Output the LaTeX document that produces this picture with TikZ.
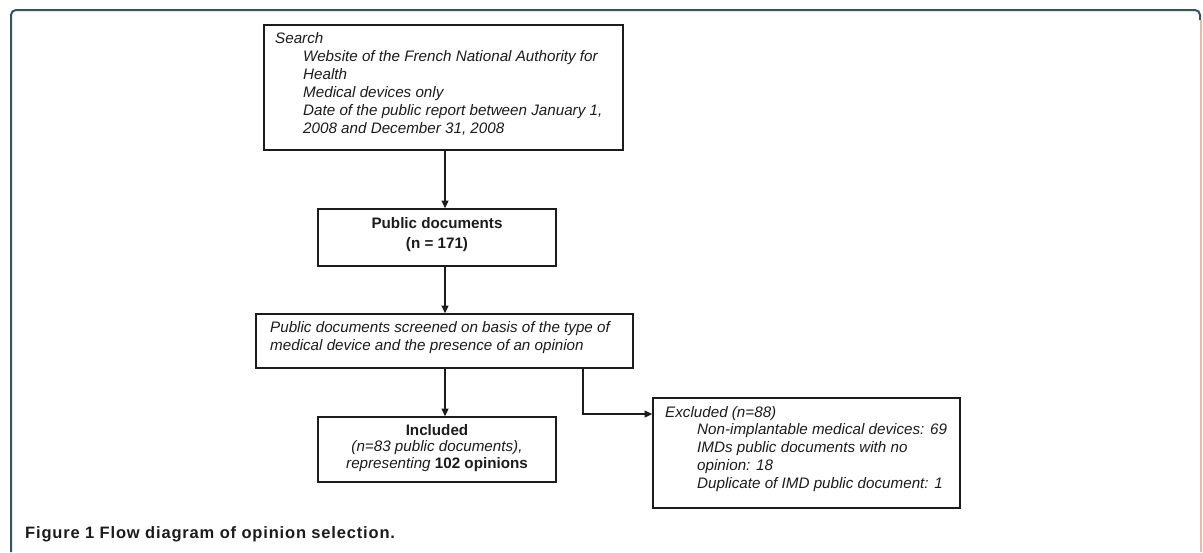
\documentclass[tikz,border=0pt]{standalone}
\usepackage{fontspec}
\setmainfont{Liberation Sans}
\usetikzlibrary{arrows.meta}
\definecolor{framec}{HTML}{34555E}
\definecolor{edgepale}{HTML}{E8B9A6}
\definecolor{ink}{HTML}{1C1C1C}
\tikzset{
  box/.style={draw=ink, line width=1.8pt, inner sep=0pt},
  arr/.style={draw=ink, line width=1.3pt, -{Triangle[length=7.5pt,width=7pt]}},
  txt/.style={inner sep=0pt, text=ink, font=\fontsize{15.2}{18}\selectfont\itshape},
}
\begin{document}
\begin{tikzpicture}[x=1pt,y=-1pt]
\useasboundingbox (0,0) rectangle (1203,552);
\fill[white] (0,0) rectangle (1203,552);
% outer frame
\draw[framec, line width=2pt, rounded corners=5pt] (11,552) -- (11,10) -- (1200,10) -- (1200,20);
\draw[edgepale, line width=1.5pt] (1201,20) -- (1201,552);

% boxes
\node[box, minimum width=359pt, minimum height=125pt] (search) at (443.5,87.5) {};
\node[box, minimum width=238pt, minimum height=57pt] (pub) at (437,237.5) {};
\node[box, minimum width=377pt, minimum height=54pt] (screen) at (444.5,341) {};
\node[box, minimum width=238pt, minimum height=65pt] (incl) at (437,449.5) {};
\node[box, minimum width=307pt, minimum height=110pt] (excl) at (806.5,453) {};

% texts
\node[txt, anchor=north west, align=left] (searchtxt) at (275,30.4) {\strut Search\\
\hspace*{28pt}Website of the French National Authority for\\
\hspace*{28pt}Health\\
\hspace*{28pt}Medical devices only\\
\hspace*{28pt}Date of the public report between January 1,\\
\hspace*{28pt}2008 and December 31, 2008};
\node[txt, anchor=north, align=center, font=\fontsize{15.2}{20}\selectfont\bfseries] (pubtxt) at (437,214) {\strut Public documents\\(n = 171)};
\node[txt, anchor=north west, align=left] (screentxt) at (270,319.4) {\strut Public documents screened on basis of the type of\\medical device and the presence of an opinion};
\node[txt, anchor=north, align=center, font=\fontsize{15.2}{16.5}\selectfont\itshape] (incltxt) at (437,423.5) {\strut\textbf{\upshape Included}\\(n=83 public documents),\\representing \textbf{\upshape 102 opinions}};
\node[txt, anchor=north west, align=left, font=\fontsize{15.2}{17.8}\selectfont\itshape] (excltxt) at (665,404.5) {\strut Excluded (n=88)\\
\hspace*{32pt}Non-implantable medical devices: 69\\
\hspace*{32pt}IMDs public documents with no\\
\hspace*{32pt}opinion: 18\\
\hspace*{32pt}Duplicate of IMD public document: 1};

% caption
\node[inner sep=0pt, anchor=base west, text=ink, font=\fontsize{16.5}{18}\selectfont\bfseries\addfontfeature{LetterSpace=5}] (caption) at (25,538) {Figure 1 Flow diagram of opinion selection.};

% connectors
\coordinate (ax) at (445,0);
\coordinate (bx) at (583,414);
\draw[arr] (search.south -| ax) -- (pub.north -| ax);
\draw[arr] (pub.south -| ax) -- (screen.north -| ax);
\draw[arr] (screen.south -| ax) -- (incl.north -| ax);
\draw[arr] (screen.south -| bx) |- (excl.west |- bx);
\end{tikzpicture}
\end{document}
